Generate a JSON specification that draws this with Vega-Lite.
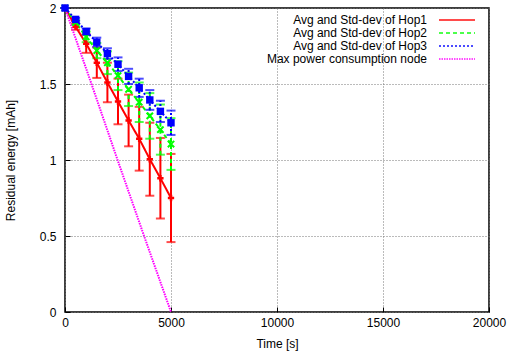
{
  "$schema": "https://vega.github.io/schema/vega-lite/v6.json",
  "width": 424,
  "height": 304,
  "autosize": {"type": "none"},
  "padding": {"left": 65, "top": 8, "right": 20, "bottom": 43},
  "background": "white",
  "data": {
    "values": [
      {"series": "Avg and Std-dev of Hop1", "t": 0, "mean": 2.0, "std": 0},
      {"series": "Avg and Std-dev of Hop1", "t": 500, "mean": 1.877, "std": 0.02},
      {"series": "Avg and Std-dev of Hop1", "t": 1000, "mean": 1.765, "std": 0.06},
      {"series": "Avg and Std-dev of Hop1", "t": 1500, "mean": 1.64, "std": 0.1},
      {"series": "Avg and Std-dev of Hop1", "t": 2000, "mean": 1.51, "std": 0.13},
      {"series": "Avg and Std-dev of Hop1", "t": 2500, "mean": 1.385, "std": 0.15},
      {"series": "Avg and Std-dev of Hop1", "t": 3000, "mean": 1.26, "std": 0.17},
      {"series": "Avg and Std-dev of Hop1", "t": 3500, "mean": 1.14, "std": 0.21},
      {"series": "Avg and Std-dev of Hop1", "t": 4000, "mean": 1.005, "std": 0.24},
      {"series": "Avg and Std-dev of Hop1", "t": 4500, "mean": 0.88, "std": 0.265},
      {"series": "Avg and Std-dev of Hop1", "t": 5000, "mean": 0.75, "std": 0.29},
      {"series": "Avg and Std-dev of Hop2", "t": 0, "mean": 2.0, "std": 0},
      {"series": "Avg and Std-dev of Hop2", "t": 500, "mean": 1.905, "std": 0.015},
      {"series": "Avg and Std-dev of Hop2", "t": 1000, "mean": 1.81, "std": 0.035},
      {"series": "Avg and Std-dev of Hop2", "t": 1500, "mean": 1.72, "std": 0.05},
      {"series": "Avg and Std-dev of Hop2", "t": 2000, "mean": 1.64, "std": 0.075},
      {"series": "Avg and Std-dev of Hop2", "t": 2500, "mean": 1.555, "std": 0.095},
      {"series": "Avg and Std-dev of Hop2", "t": 3000, "mean": 1.465, "std": 0.11},
      {"series": "Avg and Std-dev of Hop2", "t": 3500, "mean": 1.38, "std": 0.13},
      {"series": "Avg and Std-dev of Hop2", "t": 4000, "mean": 1.29, "std": 0.15},
      {"series": "Avg and Std-dev of Hop2", "t": 4500, "mean": 1.2, "std": 0.165},
      {"series": "Avg and Std-dev of Hop2", "t": 5000, "mean": 1.105, "std": 0.17},
      {"series": "Avg and Std-dev of Hop3", "t": 0, "mean": 2.0, "std": 0},
      {"series": "Avg and Std-dev of Hop3", "t": 500, "mean": 1.925, "std": 0.01},
      {"series": "Avg and Std-dev of Hop3", "t": 1000, "mean": 1.845, "std": 0.02},
      {"series": "Avg and Std-dev of Hop3", "t": 1500, "mean": 1.775, "std": 0.03},
      {"series": "Avg and Std-dev of Hop3", "t": 2000, "mean": 1.7, "std": 0.035},
      {"series": "Avg and Std-dev of Hop3", "t": 2500, "mean": 1.63, "std": 0.045},
      {"series": "Avg and Std-dev of Hop3", "t": 3000, "mean": 1.55, "std": 0.05},
      {"series": "Avg and Std-dev of Hop3", "t": 3500, "mean": 1.475, "std": 0.06},
      {"series": "Avg and Std-dev of Hop3", "t": 4000, "mean": 1.395, "std": 0.065},
      {"series": "Avg and Std-dev of Hop3", "t": 4500, "mean": 1.32, "std": 0.07},
      {"series": "Avg and Std-dev of Hop3", "t": 5000, "mean": 1.245, "std": 0.08},
      {"series": "Max power consumption node", "t": 0, "mean": 2.0},
      {"series": "Max power consumption node", "t": 1250, "mean": 1.5},
      {"series": "Max power consumption node", "t": 2480, "mean": 1.0},
      {"series": "Max power consumption node", "t": 3730, "mean": 0.5},
      {"series": "Max power consumption node", "t": 5000, "mean": 0.0}
    ]
  },
  "encoding": {
    "x": {
      "field": "t", "type": "quantitative",
      "scale": {"domain": [0, 20000], "nice": false},
      "axis": {"values": [0, 5000, 10000, 15000, 20000], "title": "Time [s]", "format": "d", "labelFlush": false}
    },
    "y": {
      "field": "mean", "type": "quantitative",
      "scale": {"domain": [0, 2], "nice": false},
      "axis": {"values": [0, 0.5, 1, 1.5, 2], "title": "Residual energy [mAh]", "format": "~g"}
    },
    "color": {
      "field": "series", "type": "nominal", "title": null,
      "scale": {
        "domain": ["Avg and Std-dev of Hop1", "Avg and Std-dev of Hop2", "Avg and Std-dev of Hop3", "Max power consumption node"],
        "range": ["#ff0000", "#00ff00", "#0000ff", "#ff00ff"]
      }
    }
  },
  "layer": [
    {
      "transform": [{"filter": "datum.series == 'Avg and Std-dev of Hop1'"}],
      "mark": {"type": "errorbar", "ticks": {"size": 9, "thickness": 2}, "rule": {"strokeWidth": 2}},
      "encoding": {"yError": {"field": "std"}}
    },
    {
      "transform": [{"filter": "datum.series == 'Avg and Std-dev of Hop2'"}],
      "mark": {"type": "errorbar", "ticks": {"size": 9, "thickness": 2}, "rule": {"strokeWidth": 2, "strokeDash": [4, 3]}},
      "encoding": {"yError": {"field": "std"}}
    },
    {
      "transform": [{"filter": "datum.series == 'Avg and Std-dev of Hop3'"}],
      "mark": {"type": "errorbar", "ticks": {"size": 9, "thickness": 2}, "rule": {"strokeWidth": 2, "strokeDash": [2, 2]}},
      "encoding": {"yError": {"field": "std"}}
    },
    {
      "mark": {"type": "line", "strokeWidth": 2},
      "encoding": {
        "strokeDash": {
          "field": "series", "type": "nominal", "title": null,
          "scale": {
            "domain": ["Avg and Std-dev of Hop1", "Avg and Std-dev of Hop2", "Avg and Std-dev of Hop3", "Max power consumption node"],
            "range": [[1, 0], [4, 3], [2, 2], [1.5, 1]]
          }
        }
      }
    },
    {
      "transform": [{"filter": "datum.series == 'Avg and Std-dev of Hop1'"}],
      "mark": {"type": "point", "shape": "cross", "filled": true, "size": 40, "opacity": 1}
    },
    {
      "transform": [{"filter": "datum.series == 'Avg and Std-dev of Hop2'"}],
      "mark": {"type": "point", "shape": "M-1,-1L1,1M-1,1L1,-1", "filled": false, "size": 40, "strokeWidth": 2, "opacity": 1}
    },
    {
      "transform": [{"filter": "datum.series == 'Avg and Std-dev of Hop3'"}],
      "mark": {"type": "point", "shape": "square", "filled": true, "size": 55, "opacity": 1}
    }
  ],
  "config": {
    "font": "Liberation Sans",
    "view": {"stroke": "black", "strokeWidth": 1.5},
    "axis": {
      "domain": false,
      "grid": true,
      "gridColor": "#777777",
      "gridDash": [1, 2],
      "gridWidth": 1,
      "ticks": true,
      "tickColor": "black",
      "tickSize": -5,
      "tickWidth": 1,
      "labelFont": "Liberation Sans",
      "labelFontSize": 12,
      "labelColor": "black",
      "titleFont": "Liberation Sans",
      "titleFontSize": 12,
      "titleFontWeight": "normal",
      "titleColor": "black"
    },
    "axisX": {"labelPadding": 10, "titlePadding": 10},
    "axisY": {"labelPadding": 14, "titlePadding": 22},
    "legend": {
      "orient": "none",
      "legendX": 385,
      "legendY": 5,
      "symbolType": "M-3,0L3,0",
      "symbolSize": 144,
      "symbolStrokeWidth": 2,
      "labelAlign": "right",
      "labelOffset": -37,
      "labelFontSize": 12,
      "labelFont": "Liberation Sans",
      "labelColor": "black",
      "rowPadding": 0,
      "labelLimit": 300
    }
  }
}
